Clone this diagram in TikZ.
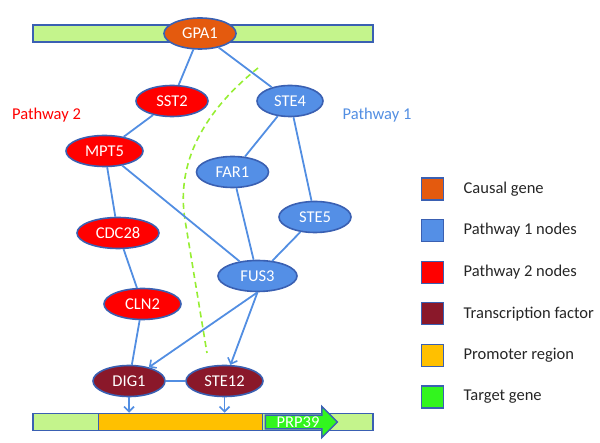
\documentclass[tikz,border=0pt]{standalone}
\usepackage{fontspec}
\setmainfont{Carlito}
\usepackage{tikz}
\usetikzlibrary{shapes,arrows.meta,positioning}
\definecolor{causal}{RGB}{228,90,14}
\definecolor{pathone}{RGB}{84,143,230}
\definecolor{pathtwo}{RGB}{255,0,0}
\definecolor{tfact}{RGB}{138,24,42}
\definecolor{promoter}{RGB}{255,192,0}
\definecolor{target}{RGB}{50,245,30}
\definecolor{dnabar}{RGB}{196,244,140}
\definecolor{rim}{RGB}{58,96,178}
\definecolor{link}{RGB}{82,142,226}
\definecolor{split}{RGB}{150,238,50}
\newcommand{\gfont}{\fontsize{16.5}{19}\selectfont}

\begin{document}
\begin{tikzpicture}[x=1pt,y=-1pt]

\tikzset{
	gene/.style={
		ellipse,
		draw=rim,
		line width=1.6pt,
		text=white,
		font=\gfont,
		minimum width=72pt,
		minimum height=31pt,
		inner sep=0pt},
	strand/.style={
		rectangle,
		draw=rim,
		line width=1.5pt,
		minimum height=17pt,
		inner sep=0pt},
	swatch/.style={
		rectangle,
		draw=rim,
		line width=1.3pt,
		minimum size=22pt,
		inner sep=0pt},
	legtext/.style={
		anchor=west,
		font=\gfont,
		text=black!85},
	rel/.style={
		draw=link,
		line width=1.8pt},
	act/.style={
		draw=link,
		line width=1.8pt,
		-{Straight Barb[length=5pt,width=10pt,line width=1.6pt]}}
}

\useasboundingbox (0,0) rectangle (600,443);

% membrane bar and promoter strand
\node[strand,fill=dnabar,minimum width=340pt] (mem) at (203,33.5) {};
\node[strand,fill=dnabar,minimum width=340pt] (dna) at (203,422) {};
\node[strand,fill=promoter,minimum width=164pt] (prom) at (180.5,422) {};
\node[single arrow,draw=rim,line width=1.5pt,fill=target,text=white,font=\gfont,
	minimum height=72pt,minimum width=31pt,single arrow head extend=8.5pt,
	inner sep=0.5pt] (prp) at (298,422) {PRP39};

% nodes
\node[gene,fill=causal] (gpa) at (200,33.5) {GPA1};
\node[gene,fill=pathtwo] (sst) at (172,101) {SST2};
\node[gene,fill=pathone,minimum width=66pt] (ste4) at (290,101) {STE4};
\node[gene,fill=pathtwo,minimum width=77pt] (mpt) at (104.5,151) {MPT5};
\node[gene,fill=pathone] (far) at (232.5,172) {FAR1};
\node[gene,fill=pathone] (ste5) at (315,217) {STE5};
\node[gene,fill=pathtwo,minimum width=82pt] (cdc) at (118,233) {CDC28};
\node[gene,fill=pathone,minimum width=79pt] (fus) at (257.5,276) {FUS3};
\node[gene,fill=pathtwo,minimum width=77pt] (cln) at (142.5,304) {CLN2};
\node[gene,fill=tfact] (dig) at (129,381) {DIG1};
\node[gene,fill=tfact,minimum width=77pt] (ste12) at (224.5,381) {STE12};

% pathway labels
\node[font=\gfont,text=pathtwo] (lbltwo) at (46.5,115) {Pathway 2};
\node[font=\gfont,text=link] (lblone) at (377,115) {Pathway 1};

% split between the two pathways
\coordinate (cuttop) at (258,68);
\coordinate (cutmid) at (185,220);
\coordinate (cutend) at (207,353);
\draw[split,line width=1.6pt,dash pattern=on 6pt off 4pt]
	(cuttop) .. controls (196,118) and (177,170) .. (cutmid) -- (cutend);

% interactions
\draw[rel] (gpa) -- (sst);
\draw[rel] (gpa) -- (ste4);
\draw[rel] (sst) -- (mpt);
\draw[rel] (mpt) -- (cdc);
\draw[rel] (mpt) -- (fus);
\draw[rel] (cdc) -- (cln);
\draw[rel] (cln) -- (dig);
\draw[rel] (ste4) -- (far);
\draw[rel] (ste4) -- (ste5);
\draw[rel] (far) -- (fus);
\draw[rel] (ste5) -- (fus);
\draw[rel] (dig) -- (ste12);
\draw[act] (fus.south) -- (dig);
\draw[act] (fus.south) -- (ste12);
\draw[act] (dig.south) -- (dig.south |- dna.north);
\draw[act] (ste12.south) -- (ste12.south |- dna.north);

% legend
\node[swatch,fill=causal] (lgcausal) at (432.5,189) {};
\node[legtext,right=16pt of lgcausal] {Causal gene};
\node[swatch,fill=pathone] (lgone) at (432.5,230.6) {};
\node[legtext,right=16pt of lgone] {Pathway 1 nodes};
\node[swatch,fill=pathtwo] (lgtwo) at (432.5,272.2) {};
\node[legtext,right=16pt of lgtwo] {Pathway 2 nodes};
\node[swatch,fill=tfact] (lgtf) at (432.5,313.8) {};
\node[legtext,right=16pt of lgtf] {Transcription factor};
\node[swatch,fill=promoter] (lgprom) at (432.5,355.4) {};
\node[legtext,right=16pt of lgprom] {Promoter region};
\node[swatch,fill=target] (lgtarget) at (432.5,397) {};
\node[legtext,right=16pt of lgtarget] {Target gene};

\end{tikzpicture}
\end{document}
